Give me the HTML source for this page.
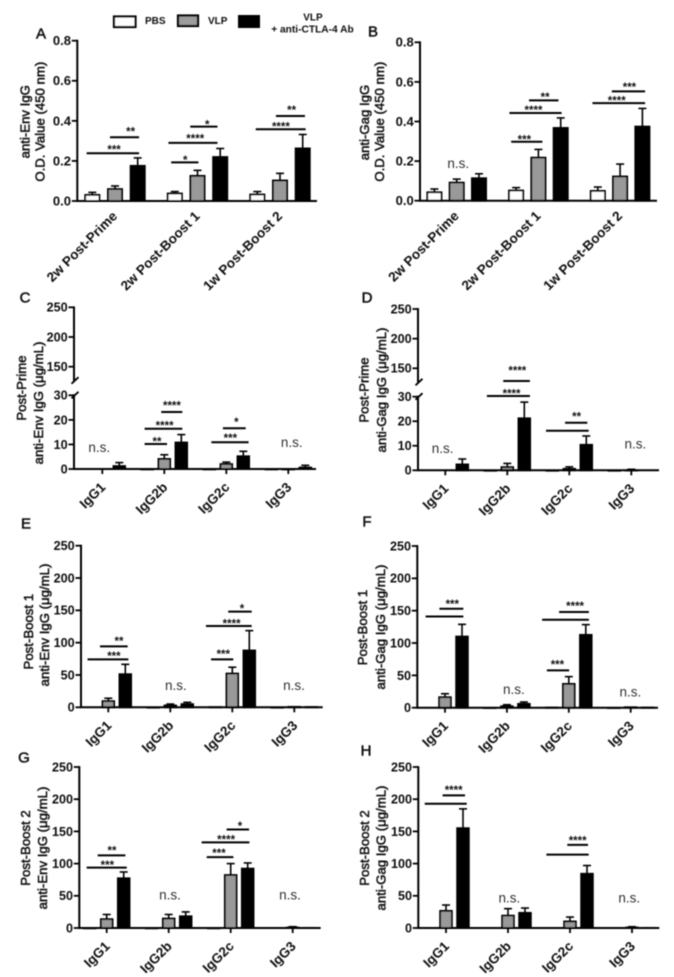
<!DOCTYPE html>
<html lang="en">
<head>
<meta charset="utf-8">
<title>Antibody responses by group</title>
<style>
html,body{margin:0;padding:0;background:#fff;width:674px;height:977px;overflow:hidden}
svg{display:block;font-family:"Liberation Sans",Arial,sans-serif}
</style>
</head>
<body>
<svg id="figure" width="674" height="977" viewBox="0 0 674 977" xmlns="http://www.w3.org/2000/svg">
<defs><filter id="soft" x="-5%" y="-5%" width="110%" height="110%"><feGaussianBlur stdDeviation="0.48"/></filter></defs>
<g id="root" filter="url(#soft)">
  <g>
    <rect x="114" y="16.5" width="21.5" height="10.5" fill="#fff" stroke="#000" stroke-width="2.2"/>
    <text x="145" y="24" font-size="10" font-weight="bold" fill="#111">PBS</text>
    <rect x="178" y="15.5" width="20" height="10.5" fill="#9c9c9c" stroke="#000" stroke-width="2.2"/>
    <text x="208" y="24" font-size="10" font-weight="bold" fill="#111">VLP</text>
    <rect x="238" y="15" width="22" height="13" fill="#000"/>
    <text x="313" y="20.5" font-size="10" font-weight="bold" fill="#111" text-anchor="middle">VLP</text>
    <text x="312.5" y="32.5" font-size="10.2" font-weight="bold" fill="#111" text-anchor="middle">+ anti-CTLA-4 Ab</text>
  </g>
</g>
</svg>
<script>
/* ---------- categories and tick labels ---------- */
const timepoints = ["2w Post-Prime", "2w Post-Boost 1", "1w Post-Boost 2"];
const isotypes = ["IgG1", "IgG2b", "IgG2c", "IgG3"];
const ticksOD = [0, 0.2, 0.4, 0.6, 0.8];
const ticksConc = [0, 50, 100, 150, 200, 250];
const ticksBrokenLow = [0, 10, 20, 30];
const ticksBrokenHigh = [150, 200, 250];

/* ---------- series values: mean and top of error bar ---------- */
const aPbs = [0.033, 0.040, 0.035];
const aPbsTop = [0.043, 0.047, 0.047];
const aVlp = [0.062, 0.128, 0.105];
const aVlpTop = [0.075, 0.153, 0.138];
const aCtla = [0.178, 0.222, 0.265];
const aCtlaTop = [0.215, 0.262, 0.332];

const bPbs = [0.045, 0.054, 0.052];
const bPbsTop = [0.059, 0.066, 0.069];
const bVlp = [0.094, 0.220, 0.125];
const bVlpTop = [0.109, 0.259, 0.185];
const bCtla = [0.116, 0.370, 0.377];
const bCtlaTop = [0.136, 0.418, 0.466];

const cPbs = [0, 0.1, 0.1, 0.1];
const cPbsTop = [0, 0.1, 0.1, 0.1];
const cVlp = [0, 4.3, 2.2, 0.1];
const cVlpTop = [0, 5.8, 2.8, 0.1];
const cCtla = [1.4, 11, 5.4, 0.8];
const cCtlaTop = [2.6, 14, 7.2, 1.5];

const dPbs = [0, 0.1, 0.1, 0.1];
const dPbsTop = [0, 0.1, 0.1, 0.1];
const dVlp = [0, 1.5, 0.8, 0.2];
const dVlpTop = [0, 2.8, 1.4, 0.4];
const dCtla = [2.6, 21.4, 10.6, 0];
const dCtlaTop = [4.6, 27.8, 14, 0];

const ePbs = [0, 0.5, 1, 0.5];
const ePbsTop = [0, 0.5, 1, 0.5];
const eVlp = [10.3, 3.6, 53, 1.5];
const eVlpTop = [14, 5, 62, 1.5];
const eCtla = [52, 5.7, 88.7, 1.2];
const eCtlaTop = [66.5, 7.7, 118.6, 1.2];

const fPbs = [0, 0.5, 1, 0.5];
const fPbsTop = [0, 0.5, 1, 0.5];
const fVlp = [17, 3, 37.6, 1.5];
const fVlpTop = [21.6, 4.6, 48, 1.5];
const fCtla = [110.8, 6.7, 113.4, 1];
const fCtlaTop = [128.9, 8.8, 128.4, 1];

const gPbs = [0.5, 0.5, 0.5, 0];
const gPbsTop = [0.5, 0.5, 0.5, 0];
const gVlp = [14.5, 15.5, 83, 1.5];
const gVlpTop = [21, 21, 100, 2];
const gCtla = [78, 19, 93, 1];
const gCtlaTop = [87, 25, 101, 1];

const hPbs = [0, 0, 0, 0];
const hPbsTop = [0, 0, 0, 0];
const hVlp = [27.4, 20, 11, 1.5];
const hVlpTop = [35.7, 30, 17, 2];
const hCtla = [155.8, 24.3, 85, 1];
const hCtlaTop = [185, 31, 97, 1];

/* ---------- significance: group, from-slot, to-slot, value, label, label-slot, label-value ---------- */
const aSig = [
  [0, 0.78, 2.06, 0.318, "**", 1.69, 0.359],
  [0, -0.25, 2.06, 0.238, "***", 0.96, 0.271],
  [1, 0.68, 1.88, 0.371, "*", 1.43, 0.396],
  [1, -0.28, 1.88, 0.29, "****", 0.9, 0.324],
  [1, -0.16, 1.04, 0.193, "*", 0.46, 0.218],
  [2, 0.82, 2.1, 0.424, "**", 1.51, 0.466],
  [2, -0.07, 2.13, 0.358, "****", 1.04, 0.386]
];
const bSig = [
  [1, 0.58, 1.9, 0.507, "**", 1.3, 0.537],
  [1, -0.3, 2.04, 0.443, "****", 0.78, 0.471],
  [1, -0.22, 1.18, 0.298, "***", 0.37, 0.322],
  [2, 0.63, 2.12, 0.552, "***", 1.42, 0.588],
  [2, -0.24, 2.12, 0.493, "****", 0.85, 0.52]
];
const cSig = [
  [1, 0.82, 2.06, 23.2, "****", 1.45, 27],
  [1, -0.16, 2.06, 16.4, "****", 1.02, 18.7],
  [1, -0.16, 1.16, 10.2, "**", 0.57, 12.2],
  [2, 0.8, 2.14, 16.6, "*", 1.59, 20.2],
  [2, 0.12, 2.31, 10.9, "***", 1.24, 13.7]
];
const dSig = [
  [1, 0.76, 2.33, 36.4, "****", 1.59, 41.7],
  [1, -0.2, 2.33, 30.3, "****", 1.25, 32.3],
  [2, 0.75, 2.06, 19.4, "**", 1.43, 22.9],
  [2, -0.37, 2.14, 16.1, "", 0, 0]
];
const eSig = [
  [0, 0.51, 2.14, 94.3, "**", 1.63, 106.7],
  [0, -0.22, 2.18, 74.2, "***", 1.33, 83],
  [2, 0.76, 2.14, 148, "*", 1.57, 157],
  [2, -0.55, 2.14, 125.8, "****", 0.96, 134],
  [2, -0.25, 1.06, 74.2, "***", 0.47, 86.6]
];
const fSig = [
  [0, 0.67, 2.08, 153, "***", 1.43, 164],
  [0, -0.14, 2.08, 141, "", 0, 0],
  [2, 0.43, 2.18, 148, "****", 1.37, 161],
  [2, -0.57, 2.18, 136, "", 0, 0],
  [2, -0.29, 1.02, 57.7, "***", 0.33, 70.6]
];
const gSig = [
  [0, 0.47, 2.1, 112.8, "**", 1.31, 124.7],
  [0, -0.18, 2.18, 93.7, "***", 1.04, 101.5],
  [2, 0.76, 2.08, 153, "*", 1.55, 162.5],
  [2, -0.71, 2.1, 133, "****", 0.73, 141.8],
  [2, -0.41, 1.16, 110, "***", 0.31, 120.6]
];
const hSig = [
  [0, 0.8, 2.12, 206, "****", 1.45, 218],
  [0, -0.25, 2.22, 193, "", 0, 0],
  [2, 0.84, 2.06, 129, "****", 1.45, 140],
  [2, -0.39, 2.1, 114, "", 0, 0]
];

/* not-significant markers: group, slot, value */
const bNs = [[0, 1.07, 0.189]];
const cNs = [[0, 0.82, 8.8], [3, 1.2, 10.9]];
const dNs = [[0, 0.84, 9.1], [3, 1.24, 10.9]];
const eNs = [[1, 1.33, 34.5], [3, 0.98, 34.5]];
const fNs = [[1, 1.41, 28.9], [3, 0.98, 25]];
const gNs = [[1, 1.08, 51.8], [3, 0.84, 51.8]];
const hNs = [[1, 1.08, 47], [3, 0.84, 47]];

/* ---------- panel frames ---------- */
const panels = [
  {id:"a", letter:"A", lx:41, ly:33, cats:timepoints, pbs:aPbs, pbsTop:aPbsTop, vlp:aVlp, vlpTop:aVlpTop, ctla:aCtla, ctlaTop:aCtlaTop, sig:aSig, ns:[],
   ax:77.3, y0:201, yMax:40.7, vMax:0.8, ticks:ticksOD, fmt:1, xEnd:317, c0:115, step:82.5, off:22.7, bw:16, xTicks:false,
   t1:"anti-Env IgG", t1x:25, t1y:121.7, t2:"O.D. Value (450 nm)", t2x:40, t2y:121.7},
  {id:"b", letter:"B", lx:373, ly:31, cats:timepoints, pbs:bPbs, pbsTop:bPbsTop, vlp:bVlp, vlpTop:bVlpTop, ctla:bCtla, ctlaTop:bCtlaTop, sig:bSig, ns:bNs,
   ax:420, y0:200.7, yMax:42.3, vMax:0.8, ticks:ticksOD, fmt:1, xEnd:657, c0:456.7, step:81.7, off:22.3, bw:16, xTicks:false,
   t1:"anti-Gag IgG", t1x:364.3, t1y:122.5, t2:"O.D. Value (450 nm)", t2x:379.3, t2y:121.7},
  {id:"c", letter:"C", lx:25, ly:297, cats:isotypes, pbs:cPbs, pbsTop:cPbsTop, vlp:cVlp, vlpTop:cVlpTop, ctla:cCtla, ctlaTop:cCtlaTop, sig:cSig, ns:cNs,
   ax:74, y0:469, y30:395.3, y150:366.7, y250:307.3, broken:true, xEnd:316, c0:102.3, step:62, off:17, bw:13.5, xTicks:true,
   t1:"Post-Prime", t1x:21.7, t1y:388, t2:"anti-Env IgG (\u03BCg/mL)", t2x:38.3, t2y:403},
  {id:"d", letter:"D", lx:367, ly:297, cats:isotypes, pbs:dPbs, pbsTop:dPbsTop, vlp:dVlp, vlpTop:dVlpTop, ctla:dCtla, ctlaTop:dCtlaTop, sig:dSig, ns:dNs,
   ax:418, y0:470.3, y30:396.7, y150:368.3, y250:309, broken:true, xEnd:659, c0:445.3, step:62, off:17, bw:13.5, xTicks:true,
   t1:"Post-Prime", t1x:364, t1y:390, t2:"anti-Gag IgG (\u03BCg/mL)", t2x:381.7, t2y:390},
  {id:"e", letter:"E", lx:26, ly:523, cats:isotypes, pbs:ePbs, pbsTop:ePbsTop, vlp:eVlp, vlpTop:eVlpTop, ctla:eCtla, ctlaTop:eCtlaTop, sig:eSig, ns:eNs,
   ax:81, y0:707.3, yMax:545.7, vMax:250, ticks:ticksConc, fmt:0, xEnd:322.7, c0:108.3, step:62, off:17, bw:13.5, xTicks:true,
   t1:"Post-Boost 1", t1x:28.3, t1y:631.7, t2:"anti-Env IgG (\u03BCg/mL)", t2x:44.3, t2y:625},
  {id:"f", letter:"F", lx:367, ly:521, cats:isotypes, pbs:fPbs, pbsTop:fPbsTop, vlp:fVlp, vlpTop:fVlpTop, ctla:fCtla, ctlaTop:fCtlaTop, sig:fSig, ns:fNs,
   ax:417.3, y0:707.7, yMax:546, vMax:250, ticks:ticksConc, fmt:0, xEnd:658, c0:445, step:61.9, off:17, bw:13.5, xTicks:true,
   t1:"Post-Boost 1", t1x:362.7, t1y:627.5, t2:"anti-Gag IgG (\u03BCg/mL)", t2x:380.7, t2y:627},
  {id:"g", letter:"G", lx:24, ly:757, cats:isotypes, pbs:gPbs, pbsTop:gPbsTop, vlp:gVlp, vlpTop:gVlpTop, ctla:gCtla, ctlaTop:gCtlaTop, sig:gSig, ns:gNs,
   ax:79.3, y0:928, yMax:767, vMax:250, ticks:ticksConc, fmt:0, xEnd:320.7, c0:106.7, step:62, off:17, bw:13.5, xTicks:true,
   t1:"Post-Boost 2", t1x:25.7, t1y:848, t2:"anti-Env IgG (\u03BCg/mL)", t2x:42.7, t2y:848},
  {id:"h", letter:"H", lx:366, ly:750, cats:isotypes, pbs:hPbs, pbsTop:hPbsTop, vlp:hVlp, vlpTop:hVlpTop, ctla:hCtla, ctlaTop:hCtlaTop, sig:hSig, ns:hNs,
   ax:418.3, y0:928, yMax:767, vMax:250, ticks:ticksConc, fmt:0, xEnd:659.3, c0:446, step:62, off:17, bw:13.5, xTicks:true,
   t1:"Post-Boost 2", t1x:364.3, t1y:848, t2:"anti-Gag IgG (\u03BCg/mL)", t2x:381, t2y:848}
];

/* ---------- drawing ---------- */
const NS = "http://www.w3.org/2000/svg";
const root = document.getElementById("root");

function node(parent, tag, name, props) {
  const el = document.createElementNS(NS, tag);
  
  
  for (const k in props) el.setAttribute(k, props[k]);
  parent.appendChild(el);
  return el;
}
function line(parent, name, x1, y1, x2, y2, w) {
  return node(parent, "line", name, {x1, y1, x2, y2, stroke:"#000", "stroke-width":w});
}
function label(parent, name, str, props) {
  const el = node(parent, "text", name, props);
  el.textContent = str;
  return el;
}

panels.forEach(function (p) {
  const g = node(root, "g", "panel-" + p.id, {});

  function yScale(v) {
    if (p.broken) {
      if (v >= 100) return p.y150 + (v - 150) * (p.y250 - p.y150) / 100;
      return p.y0 + v * (p.y30 - p.y0) / 30;
    }
    return p.y0 + v * (p.yMax - p.y0) / p.vMax;
  }
  function xScale(group, slot) {
    return p.c0 + group * p.step + (slot - 1) * p.off;
  }

  label(g, "panel-letter-" + p.id, p.letter, {x:p.lx, y:p.ly + 5.5, "font-size":15, "text-anchor":"middle", fill:"#111", stroke:"#111", "stroke-width":0.5});

  /* axis titles */
  [[p.t1, p.t1x, p.t1y, "y-axis-title-line-1"], [p.t2, p.t2x, p.t2y, "y-axis-title-line-2"]].forEach(function (t) {
    label(g, t[3] + "-" + p.id, t[0], {
      x:0, y:0, transform:"translate(" + t[1] + "," + t[2] + ") rotate(-90)",
      "font-size":13.2, "text-anchor":"middle", "dominant-baseline":"central",
      fill:"#111", stroke:"#111", "stroke-width":0.5
    });
  });

  /* y axis */
  const tickLen = 5.5;
  function yTick(v, txt) {
    const yy = yScale(v);
    line(g, "y-tick-" + p.id + "-" + txt, p.ax - tickLen, yy, p.ax, yy, 1.8);
    label(g, "y-tick-label-" + p.id + "-" + txt, txt, {
      x:p.ax - tickLen - 0.8, y:yy + 4.4, "font-size":p.fmt === 1 ? 13 : 12.6,
      "font-weight":"bold", "text-anchor":"end", fill:"#111"
    });
  }
  if (p.broken) {
    line(g, "y-axis-line-upper-" + p.id, p.ax, p.y250 - 0.9, p.ax, p.y150 + 14, 2);
    line(g, "y-axis-line-lower-" + p.id, p.ax, p.y30 - 1, p.ax, p.y0, 2);
    line(g, "axis-break-mark-upper-" + p.id, p.ax - 2.5, p.y150 + 17, p.ax + 4.5, p.y150 + 10.5, 1.8);
    line(g, "axis-break-mark-lower-" + p.id, p.ax - 2.5, p.y30 + 3, p.ax + 4.5, p.y30 - 3.5, 1.8);
    ticksBrokenLow.forEach(function (v) { yTick(v, String(v)); });
    ticksBrokenHigh.forEach(function (v) { yTick(v, String(v)); });
  } else {
    line(g, "y-axis-line-" + p.id, p.ax, p.yMax - 0.9, p.ax, p.y0, 2);
    p.ticks.forEach(function (v) { yTick(v, v.toFixed(p.fmt)); });
  }

  /* bars and error bars */
  const series = [
    ["pbs", p.pbs, p.pbsTop, "#fff"],
    ["vlp", p.vlp, p.vlpTop, "#999"],
    ["anti-ctla-4", p.ctla, p.ctlaTop, "#000"]
  ];
  series.forEach(function (s, slot) {
    s[1].forEach(function (v, i) {
      const cx = xScale(i, slot);
      const top = yScale(v);
      const errTop = yScale(s[2][i]);
      if (s[2][i] > v) {
        line(g, "error-bar-" + p.id + "-" + s[0] + "-" + i, cx, top, cx, errTop, 1.6);
        line(g, "error-cap-" + p.id + "-" + s[0] + "-" + i, cx - 4, errTop, cx + 4, errTop, 1.6);
      }
      if (v > 0) {
        const sw = 1.8;
        node(g, "rect", "bar-" + p.id + "-" + s[0] + "-" + p.cats[i].replace(/\s+/g, "-").toLowerCase(), {
          x:cx - p.bw / 2 + sw / 2, y:top + sw / 2 - 0.4,
          width:p.bw - sw, height:Math.max(0.2, p.y0 - top - sw / 2 + 0.4),
          fill:s[3], stroke:"#000", "stroke-width":sw
        });
      }
    });
  });

  /* x axis */
  line(g, "x-axis-line-" + p.id, p.ax - 1, p.y0, p.xEnd, p.y0, 2);
  p.cats.forEach(function (c, i) {
    const cx = xScale(i, 1);
    if (p.xTicks) line(g, "x-tick-" + p.id + "-" + i, cx, p.y0, cx, p.y0 + 5, 1.8);
    const tx = p.xTicks ? cx + 4 : cx + 3;
    const ty = p.xTicks ? p.y0 + 19 : p.y0 + 16;
    label(g, "x-tick-label-" + p.id + "-" + c.replace(/\s+/g, "-").toLowerCase(), c, {
      x:0, y:0, transform:"translate(" + tx + "," + ty + ") rotate(-45)",
      "font-size":13.5, "font-weight":"bold", "text-anchor":"end", fill:"#111"
    });
  });

  /* significance lines and labels */
  p.sig.forEach(function (s, i) {
    const yy = yScale(s[3]);
    line(g, "significance-line-" + p.id + "-" + i, xScale(s[0], s[1]), yy, xScale(s[0], s[2]), yy, 2);
    if (s[4]) {
      label(g, "significance-label-" + p.id + "-" + i, s[4], {
        x:xScale(s[0], s[5]), y:yScale(s[6]) + 6.6, "font-size":11.5, "font-weight":"bold",
        "text-anchor":"middle", fill:"#111"
      });
    }
  });
  p.ns.forEach(function (n, i) {
    label(g, "not-significant-label-" + p.id + "-" + i, "n.s.", {
      x:xScale(n[0], n[1]), y:yScale(n[2]) + 4.8, "font-size":13.5,
      "text-anchor":"middle", fill:"#333"
    });
  });
});
</script>
</body>
</html>
